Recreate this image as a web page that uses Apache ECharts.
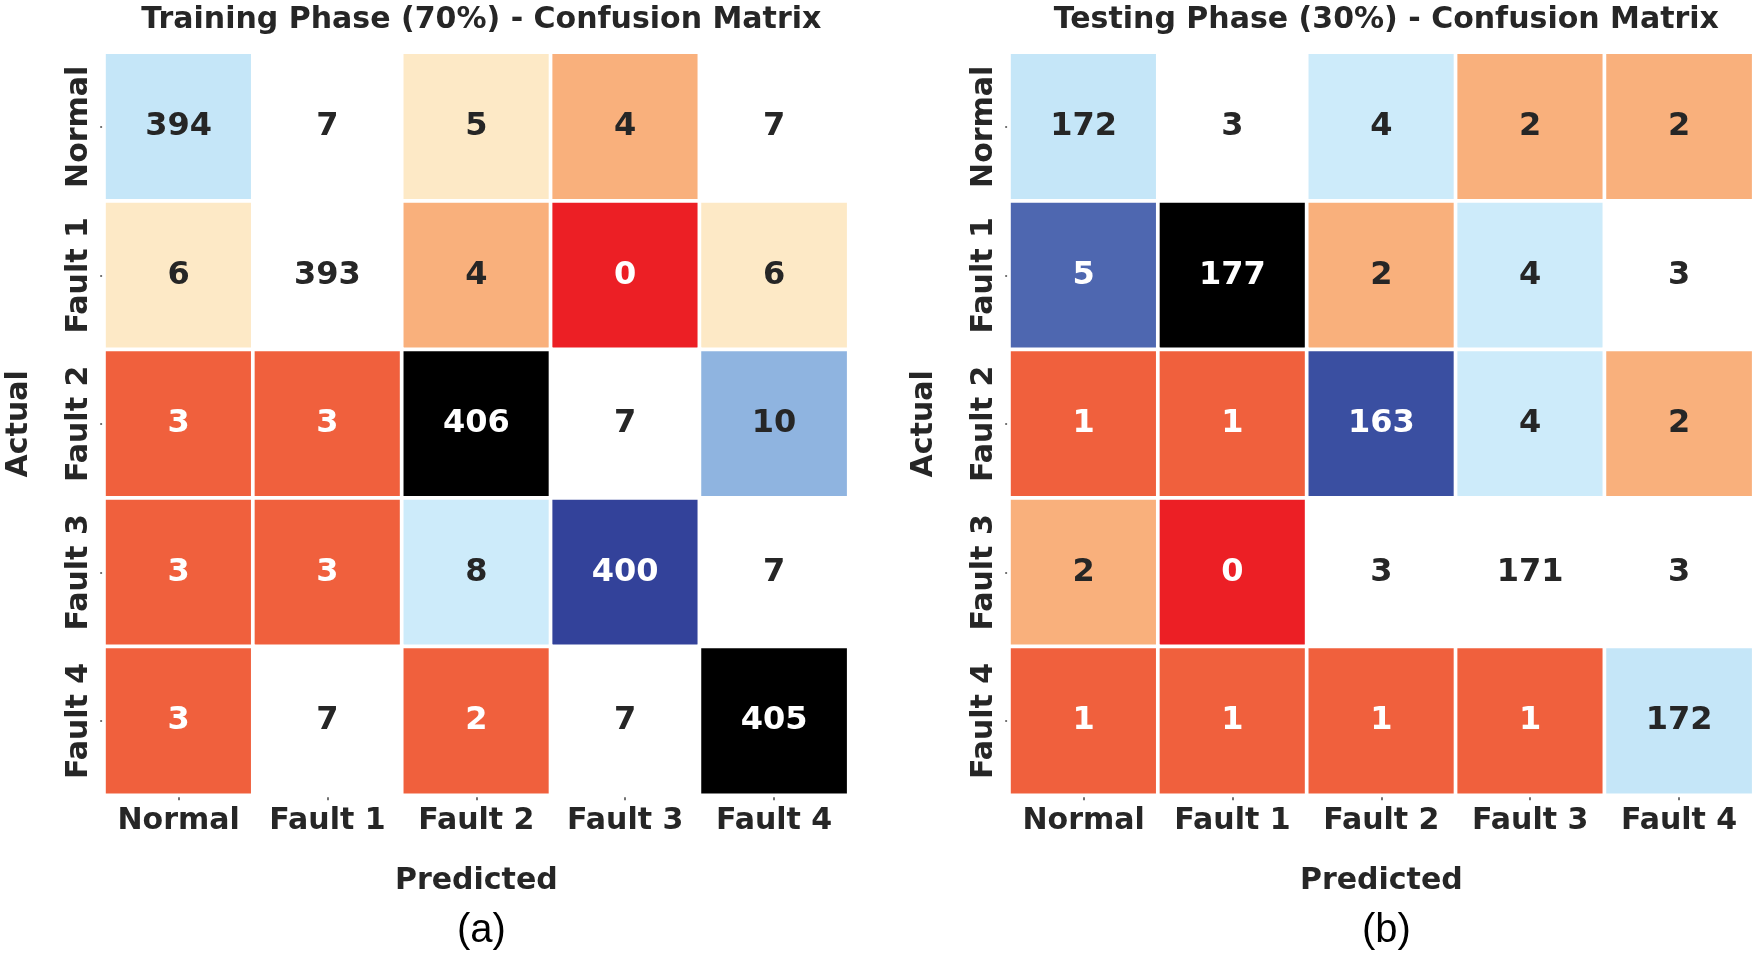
<!DOCTYPE html>
<html>
<head>
<meta charset="utf-8">
<script src="https://cdn.jsdelivr.net/npm/echarts@6/dist/echarts.min.js"></script>
<style>
  html, body { margin: 0; padding: 0; background: #fff; }
  #chart { width: 1755px; height: 955px; }
</style>
</head>
<body>
<div id="chart"></div>
<script>
// ---- data ----
const classes = ['Normal', 'Fault 1', 'Fault 2', 'Fault 3', 'Fault 4'];
const trainTitle = 'Training Phase (70%) - Confusion Matrix';
const testTitle = 'Testing Phase (30%) - Confusion Matrix';
const trainMatrix = [
  [394, 7, 5, 4, 7],
  [6, 393, 4, 0, 6],
  [3, 3, 406, 7, 10],
  [3, 3, 8, 400, 7],
  [3, 7, 2, 7, 405]
];
const testMatrix = [
  [172, 3, 4, 2, 2],
  [5, 177, 2, 4, 3],
  [1, 1, 163, 4, 2],
  [2, 0, 3, 171, 3],
  [1, 1, 1, 1, 172]
];
const panelLabels = ['(a)', '(b)'];
const xName = 'Predicted';
const yName = 'Actual';

// ---- colour mapping (value -> colour) ----
const trainPieces = [
  { min: 0, max: 0, color: '#ec1f25' },
  { min: 1, max: 3, color: '#f0603d' },
  { min: 4, max: 4, color: '#f9b07c' },
  { min: 5, max: 6, color: '#fde9c6' },
  { min: 7, max: 7, color: '#ffffff' },
  { min: 8, max: 8, color: '#cdebfa' },
  { min: 9, max: 20, color: '#8fb4e0' },
  { min: 393, max: 393, color: '#ffffff' },
  { min: 394, max: 394, color: '#c5e6f8' },
  { min: 395, max: 402, color: '#33429a' },
  { min: 403, max: 410, color: '#000000' }
];
const testPieces = [
  { min: 0, max: 0, color: '#ec1f25' },
  { min: 1, max: 1, color: '#f0603d' },
  { min: 2, max: 2, color: '#f9b07c' },
  { min: 3, max: 3, color: '#ffffff' },
  { min: 4, max: 4, color: '#cdebfa' },
  { min: 5, max: 5, color: '#4e67b0' },
  { min: 160, max: 165, color: '#3a4fa1' },
  { min: 171, max: 171, color: '#ffffff' },
  { min: 172, max: 172, color: '#c5e6f8' },
  { min: 175, max: 180, color: '#000000' }
];

function colorFor(pieces, v) {
  for (const p of pieces) if (v >= p.min && v <= p.max) return p.color;
  return '#ffffff';
}
function isDark(hex) {
  const r = parseInt(hex.substr(1, 2), 16), g = parseInt(hex.substr(3, 2), 16), b = parseInt(hex.substr(5, 2), 16);
  const L = 0.2126 * r + 0.7152 * g + 0.0722 * b;
  return L < 150;
}
function toCells(matrix) {
  const out = [];
  matrix.forEach((row, yi) => row.forEach((v, xi) => out.push([xi, yi, v])));
  return out;
}

const FONT = 'DejaVu Sans';
const TXT = '#262626';
const grids = [
  { left: 104.2, top: 52.5, width: 744.3, height: 742.7 },
  { left: 1009.2, top: 52.5, width: 744.3, height: 742.7 }
];

function xAxisFor(i) {
  return {
    type: 'category', gridIndex: i, data: classes, position: 'bottom',
    axisLine: { show: false },
    axisTick: { show: true, interval: 0, alignWithLabel: true, length: 5, lineStyle: { color: '#444', width: 1.5 } },
    axisLabel: { interval: 0, hideOverlap: false, margin: 11, color: TXT, fontSize: 30, fontWeight: 'bold', fontFamily: FONT },
    splitLine: { show: false },
    name: xName, nameLocation: 'middle', nameGap: 71, nameMoveOverlap: false,
    nameTextStyle: { color: TXT, fontSize: 30, fontWeight: 'bold', fontFamily: FONT }
  };
}
function yAxisFor(i) {
  return {
    type: 'category', gridIndex: i, data: classes, inverse: true,
    axisLine: { show: false },
    axisTick: { show: true, interval: 0, alignWithLabel: true, length: 4, lineStyle: { color: '#444', width: 1.5 } },
    axisLabel: { interval: 0, hideOverlap: false, margin: 10, rotate: 90, color: TXT, fontSize: 30, fontWeight: 'bold', fontFamily: FONT },
    splitLine: { show: false },
    name: yName, nameLocation: 'middle', nameGap: 70, nameMoveOverlap: false,
    nameTextStyle: { color: TXT, fontSize: 30, fontWeight: 'bold', fontFamily: FONT }
  };
}
function seriesFor(i, matrix, pieces) {
  return {
    type: 'heatmap', xAxisIndex: i, yAxisIndex: i,
    data: toCells(matrix),
    itemStyle: { borderColor: '#ffffff', borderWidth: 3.7 },
    emphasis: { disabled: true },
    label: {
      show: true,
      formatter: p => (isDark(colorFor(pieces, p.value[2])) ? '{w|' : '{d|') + p.value[2] + '}',
      rich: {
        w: { color: '#ffffff', fontSize: 32, fontWeight: 'bold', fontFamily: FONT },
        d: { color: TXT, fontSize: 32, fontWeight: 'bold', fontFamily: FONT }
      }
    }
  };
}

const chart = echarts.init(document.getElementById('chart'));
chart.setOption({
  backgroundColor: '#ffffff',
  animation: false,
  title: [
    { text: trainTitle, left: 476.35, top: 0, textAlign: 'center',
      textStyle: { color: TXT, fontSize: 30, fontWeight: 'bold', fontFamily: FONT } },
    { text: testTitle, left: 1381.35, top: 0, textAlign: 'center',
      textStyle: { color: TXT, fontSize: 30, fontWeight: 'bold', fontFamily: FONT } },
    { text: panelLabels[0], left: 476.35, top: 906, textAlign: 'center',
      textStyle: { color: '#000', fontSize: 40, fontWeight: 'normal', fontFamily: 'Liberation Sans' } },
    { text: panelLabels[1], left: 1381.35, top: 906, textAlign: 'center',
      textStyle: { color: '#000', fontSize: 40, fontWeight: 'normal', fontFamily: 'Liberation Sans' } }
  ],
  grid: grids,
  xAxis: [xAxisFor(0), xAxisFor(1)],
  yAxis: [yAxisFor(0), yAxisFor(1)],
  visualMap: [
    { type: 'piecewise', show: false, seriesIndex: 0, dimension: 2, pieces: trainPieces, outOfRange: { color: '#ffffff' } },
    { type: 'piecewise', show: false, seriesIndex: 1, dimension: 2, pieces: testPieces, outOfRange: { color: '#ffffff' } }
  ],
  series: [seriesFor(0, trainMatrix, trainPieces), seriesFor(1, testMatrix, testPieces)]
});
</script>
</body>
</html>
